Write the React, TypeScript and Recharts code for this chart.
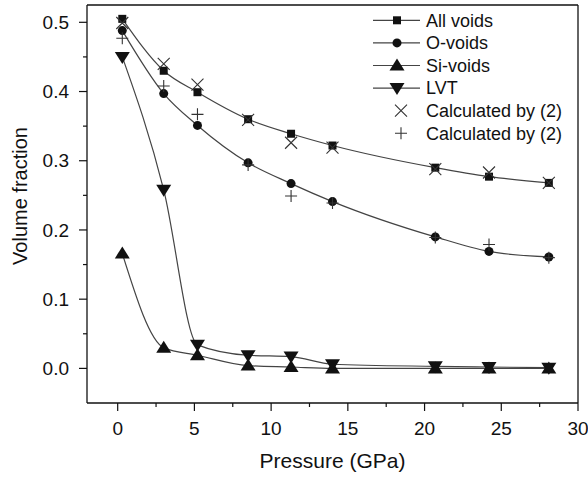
import React from 'react';
import { ComposedChart, Line, XAxis, YAxis, Legend, ReferenceLine } from 'recharts';

// pressure (GPa) at which every series was sampled
const pressure = [0.3, 3.0, 5.2, 8.5, 11.3, 14.0, 20.7, 24.2, 28.1];

// volume fractions
const allVoids = [0.505, 0.43, 0.399, 0.36, 0.339, 0.322, 0.29, 0.277, 0.268];
const oVoids = [0.488, 0.397, 0.351, 0.297, 0.267, 0.241, 0.19, 0.169, 0.161];
const siVoids = [0.166, 0.03, 0.019, 0.004, 0.002, 0.0, 0.0, 0.0, 0.0];
const lvt = [0.45, 0.258, 0.034, 0.019, 0.017, 0.006, 0.003, 0.002, 0.001];
const calcAll = [0.499, 0.44, 0.41, 0.359, 0.326, 0.319, 0.288, 0.283, 0.268];
const calcO = [0.477, 0.408, 0.367, 0.294, 0.249, 0.239, 0.189, 0.179, 0.16];

const xTicks = [0, 2.5, 5, 7.5, 10, 12.5, 15, 17.5, 20, 22.5, 25, 27.5, 30];
const yTicks = [0, 0.05, 0.1, 0.15, 0.2, 0.25, 0.3, 0.35, 0.4, 0.45, 0.5];

const data = pressure.map((p, i) => ({
  p,
  all: allVoids[i],
  o: oVoids[i],
  si: siVoids[i],
  lvt: lvt[i],
  calcX: calcAll[i],
  calcPlus: calcO[i],
}));

type Mark = 'square' | 'circle' | 'up' | 'down' | 'cross' | 'plus';

const series: { key: string; name: string; mark: Mark; line: boolean }[] = [
  { key: 'all', name: 'All voids', mark: 'square', line: true },
  { key: 'o', name: 'O-voids', mark: 'circle', line: true },
  { key: 'si', name: 'Si-voids', mark: 'up', line: true },
  { key: 'lvt', name: 'LVT', mark: 'down', line: true },
  { key: 'calcX', name: 'Calculated by (2)', mark: 'cross', line: false },
  { key: 'calcPlus', name: 'Calculated by (2)', mark: 'plus', line: false },
];

const FONT = '"Liberation Sans", Arial, Helvetica, sans-serif';
const INK = '#111';
const CURVE = '#444';

function Marker({ kind, cx, cy }: { kind: Mark; cx: number; cy: number }) {
  switch (kind) {
    case 'square':
      return <rect x={cx - 4} y={cy - 4} width={8} height={8} fill={INK} />;
    case 'circle':
      return <circle cx={cx} cy={cy} r={4.5} fill={INK} />;
    case 'up':
      return <path d={`M${cx},${cy - 7}L${cx + 7.5},${cy + 5}L${cx - 7.5},${cy + 5}Z`} fill={INK} />;
    case 'down':
      return <path d={`M${cx},${cy + 7}L${cx + 7.5},${cy - 5}L${cx - 7.5},${cy - 5}Z`} fill={INK} />;
    case 'cross':
      return (
        <path
          d={`M${cx - 6},${cy - 6}L${cx + 6},${cy + 6}M${cx + 6},${cy - 6}L${cx - 6},${cy + 6}`}
          stroke="#333" strokeWidth={1.1} fill="none"
        />
      );
    default:
      return (
        <path
          d={`M${cx - 6},${cy}L${cx + 6},${cy}M${cx},${cy - 6}L${cx},${cy + 6}`}
          stroke="#333" strokeWidth={1.1} fill="none"
        />
      );
  }
}

const dotFor = (kind: Mark) => (props: any) => {
  if (props.cx == null || props.cy == null) return <g key={`${kind}-${props.index}`} />;
  return (
    <g key={`${kind}-${props.index}`}>
      <Marker kind={kind} cx={props.cx} cy={props.cy} />
    </g>
  );
};

// ticks drawn by hand: majors get a label, minors only a short line
const XTick = (props: any) => {
  const { x, y, payload } = props;
  const v = payload.value as number;
  const major = Math.abs(v % 5) < 1e-9;
  return (
    <g>
      <line x1={x} x2={x} y1={y} y2={y + (major ? 8 : 4)} stroke={INK} strokeWidth={1.2} />
      {major && (
        <text x={x} y={y + 19} dy="0.71em" textAnchor="middle" fontSize={19} fontFamily={FONT} fill={INK}>
          {v}
        </text>
      )}
    </g>
  );
};

const YTick = (props: any) => {
  const { x, y, payload } = props;
  const v = payload.value as number;
  const major = Math.round(v * 100) % 10 === 0;
  return (
    <g>
      <line x1={x} x2={x - (major ? 8 : 4)} y1={y} y2={y} stroke={INK} strokeWidth={1.2} />
      {major && (
        <text x={x - 18} y={y} dy="0.35em" textAnchor="end" fontSize={19} fontFamily={FONT} fill={INK}>
          {v.toFixed(1)}
        </text>
      )}
    </g>
  );
};

const renderLegend = () => (
  <svg width={210} height={140} style={{ display: 'block' }}>
    {series.map((s, i) => {
      const cy = 11.3 + i * 22.6;
      return (
        <g key={s.key}>
          {s.line && <line x1={0} x2={47} y1={cy} y2={cy} stroke={CURVE} strokeWidth={1.2} />}
          <Marker kind={s.mark} cx={s.line ? 24 : 28} cy={cy} />
          <text x={53} y={cy} dy="0.35em" fontSize={18} fontFamily={FONT} fill={INK}>
            {s.name}
          </text>
        </g>
      );
    })}
  </svg>
);

export default function App() {
  return (
    <div style={{ position: 'absolute', left: 0, top: 0, background: '#fff' }}>
      <ComposedChart width={588} height={480} data={data} margin={{ top: 5, right: 10, bottom: 0, left: 0 }}>
        <XAxis
          dataKey="p"
          type="number"
          domain={[-2, 30]}
          ticks={xTicks}
          interval={0}
          allowDataOverflow
          height={77}
          tickSize={0}
          tickMargin={0}
          tickLine={false}
          axisLine={{ stroke: INK, strokeWidth: 1.3 }}
          tick={XTick}
          label={{
            content: ({ viewBox }: any) => (
              <text
                x={viewBox.x + viewBox.width / 2}
                y={viewBox.y + 58}
                dy="0.35em"
                textAnchor="middle"
                fontSize={21}
                fontFamily={FONT}
                fill={INK}
              >
                Pressure (GPa)
              </text>
            ),
          }}
        />
        <YAxis
          type="number"
          domain={[-0.05, 0.525]}
          ticks={yTicks}
          interval={0}
          allowDataOverflow
          width={87}
          tickSize={0}
          tickMargin={0}
          tickLine={false}
          axisLine={{ stroke: INK, strokeWidth: 1.3 }}
          tick={YTick}
          label={{
            content: ({ viewBox }: any) => (
              <text
                x={20}
                y={viewBox.y + viewBox.height / 2 - 8}
                dy="0.35em"
                textAnchor="middle"
                fontSize={20}
                fontFamily={FONT}
                fill={INK}
                transform={`rotate(-90, 20, ${viewBox.y + viewBox.height / 2 - 8})`}
              >
                Volume fraction
              </text>
            ),
          }}
        />
        {/* top and right edges of the frame */}
        <ReferenceLine y={0.525} stroke={INK} strokeWidth={1.3} />
        <ReferenceLine x={30} stroke={INK} strokeWidth={1.3} />

        <Legend
          layout="vertical"
          align="center"
          verticalAlign="middle"
          content={renderLegend}
          wrapperStyle={{ left: 373, top: 9, width: 210, height: 140 }}
        />

        {series.map(s => (
          <Line
            key={s.key}
            dataKey={s.key}
            name={s.name}
            type="monotone"
            stroke={s.line ? CURVE : 'none'}
            strokeWidth={1.2}
            dot={dotFor(s.mark)}
            activeDot={false}
            isAnimationActive={false}
          />
        ))}
      </ComposedChart>
    </div>
  );
}
